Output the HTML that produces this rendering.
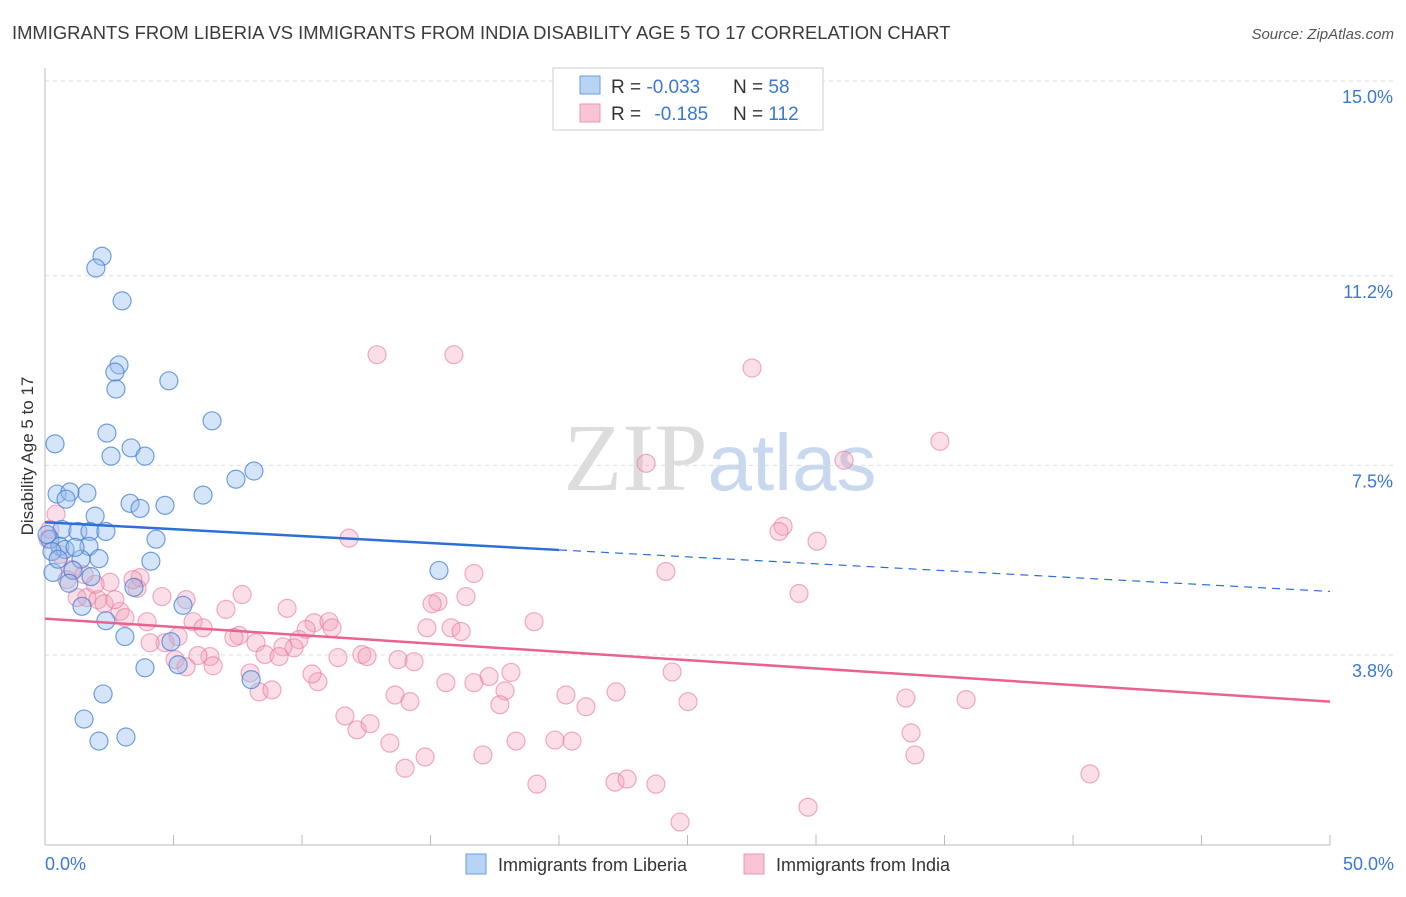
<!DOCTYPE html>
<html><head><meta charset="utf-8"><style>
body{margin:0;background:#fff;font-family:"Liberation Sans",sans-serif}
</style></head><body>
<svg id="chart" width="1406" height="892" xmlns="http://www.w3.org/2000/svg" font-family="Liberation Sans, sans-serif">
<text x="12" y="39" font-size="18.4" fill="#3a3a3a">IMMIGRANTS FROM LIBERIA VS IMMIGRANTS FROM INDIA DISABILITY AGE 5 TO 17 CORRELATION CHART</text>
<text x="1394" y="39" font-size="15" fill="#555" text-anchor="end" font-style="italic">Source: ZipAtlas.com</text>
<text x="720" y="490" font-size="96" text-anchor="middle" fill="#ddd" font-family="Liberation Serif, serif">ZIP<tspan fill="#c8d8ee" font-family="Liberation Sans, sans-serif" font-size="80">atlas</tspan></text>
<text transform="translate(33,456) rotate(-90)" font-size="17" fill="#333" text-anchor="middle">Disability Age 5 to 17</text>
<g id="grid"></g><g id="axes"></g><g id="pts"></g><g id="trend"></g>
<g>
<rect x="553" y="68" width="270" height="62" fill="#fff" stroke="#ccc"/>
<rect x="580" y="76" width="20" height="18" fill="#b8d4f5" stroke="#6a9ee0"/>
<rect x="580" y="104" width="20" height="18" fill="#f9c4d4" stroke="#ee94b0"/>
<text x="611" y="93" font-size="19" fill="#333">R = <tspan fill="#3a78d4">-0.033</tspan><tspan x="733">N = </tspan><tspan fill="#3a78d4">58</tspan></text>
<text x="611" y="120" font-size="19" fill="#333">R = <tspan fill="#3a78d4" dx="8">-0.185</tspan><tspan x="733">N = </tspan><tspan fill="#3a78d4">112</tspan></text>
</g>
<g>
<rect x="466" y="854" width="20" height="20" fill="#b8d4f5" stroke="#6a9ee0"/>
<text x="498" y="871" font-size="18" fill="#333">Immigrants from Liberia</text>
<rect x="744" y="854" width="20" height="20" fill="#f9c4d4" stroke="#ee94b0"/>
<text x="776" y="871" font-size="18" fill="#333">Immigrants from India</text>
</g>
</svg>
<script>
const yTicks=[15.0,11.2,7.5,3.8];
const yTickLabels=["15.0%","11.2%","7.5%","3.8%"];
const xTickLabels=["0.0%","50.0%"];
const liberiaX=[2.22,1.98,3.0,2.88,2.72,2.76,4.82,6.5,0.39,2.41,3.35,2.57,3.89,8.13,7.43,6.15,0.47,1.63,0.97,0.82,3.31,3.7,4.67,1.95,0.66,1.28,1.75,2.37,4.32,0.19,0.58,1.71,0.78,2.1,1.4,4.12,0.31,1.09,1.79,15.33,3.46,0.93,1.44,5.37,2.37,3.11,4.9,3.89,5.18,8.02,2.26,1.52,2.1,3.15,0.08,0.27,0.51,1.17];
const liberiaY=[11.58,11.35,10.71,9.46,9.32,8.99,9.15,8.37,7.92,8.13,7.84,7.68,7.68,7.39,7.23,6.92,6.94,6.96,6.98,6.84,6.76,6.66,6.72,6.51,6.25,6.21,6.21,6.21,6.06,6.06,5.92,5.92,5.86,5.68,5.67,5.63,5.41,5.45,5.33,5.45,5.12,5.2,4.75,4.77,4.47,4.16,4.06,3.55,3.61,3.32,3.04,2.55,2.12,2.2,6.15,5.82,5.67,5.9];
const indiaX=[12.92,15.91,27.51,34.82,23.39,31.09,28.72,28.56,30.04,11.83,24.16,16.69,29.34,2.53,3.58,4.55,1.63,1.25,2.06,2.3,5.49,7.67,16.38,15.29,15.06,9.42,7.04,2.92,3.11,3.97,5.76,6.15,10.47,11.05,11.17,10.16,14.86,15.8,16.19,19.03,7.55,7.35,5.18,4.67,4.09,8.21,9.88,9.69,9.26,6.42,5.95,5.06,5.49,6.54,8.56,9.11,11.4,12.33,12.53,13.74,14.36,17.28,18.13,24.4,15.6,16.69,10.62,10.39,7.98,8.33,8.83,13.62,14.2,17.9,17.7,20.27,21.05,22.22,25.02,33.5,35.84,11.67,12.14,12.65,13.42,18.33,19.84,20.51,33.7,33.85,14.01,14.79,17.04,19.14,22.18,22.65,23.77,29.69,24.71,40.66,0.43,0.19,0.12,0.58,1.05,0.86,1.95,1.52,3.7,2.72,3.42];
const indiaY=[9.66,9.66,9.4,7.97,7.54,7.6,6.31,6.21,6.02,6.08,5.43,5.39,5.0,5.22,5.1,4.94,4.92,4.92,4.88,4.8,4.88,4.98,4.94,4.84,4.8,4.71,4.69,4.65,4.53,4.45,4.45,4.33,4.43,4.45,4.33,4.3,4.33,4.33,4.26,4.45,4.18,4.14,4.16,4.04,4.04,4.04,4.1,3.94,3.96,3.77,3.79,3.71,3.57,3.59,3.81,3.77,3.75,3.81,3.77,3.71,3.67,3.38,3.46,3.47,3.26,3.26,3.28,3.43,3.45,3.08,3.12,3.02,2.89,3.1,2.83,3.02,2.79,3.08,2.89,2.96,2.93,2.61,2.34,2.46,2.08,2.12,2.14,2.12,2.28,1.85,1.59,1.81,1.85,1.28,1.32,1.38,1.28,0.83,0.54,1.48,6.55,6.25,6.06,5.76,5.47,5.27,5.18,5.37,5.31,4.88,5.27];
const liberiaTrend=[6.39,5.04];
const indiaTrend=[4.51,2.89];
const liberiaSolidEnd=20.0;

const NS="http://www.w3.org/2000/svg";
const X=v=>45+v*25.7;
const Y=v=>81+(15-v)*51.25;
function mk(tag,attrs,parent){const e=document.createElementNS(NS,tag);for(const k in attrs)e.setAttribute(k,attrs[k]);document.getElementById(parent).appendChild(e);return e;}
yTicks.forEach((t,i)=>{
  const l=mk('line',{x1:45,x2:1394,y1:Y(t),y2:Y(t),stroke:'#ddd','stroke-dasharray':'4,4'},'grid');
  
  
  const tx=mk('text',{x:1393,y:Y(t)+22,'font-size':18,fill:'#3a78d4','text-anchor':'end'},'axes');
  tx.textContent=yTickLabels[i];
  
  
});
const ax=mk('line',{x1:45,x2:45,y1:68,y2:845,stroke:'#bbb'},'axes');


const bx=mk('line',{x1:45,x2:1330,y1:845,y2:845,stroke:'#bbb'},'axes');


for(let v=0;v<=50;v+=5){
  const t=mk('line',{x1:X(v),x2:X(v),y1:835,y2:845,stroke:'#bbb'},'axes');
  
  
}
[[0,'start',45],[50,'end',1394]].forEach((a,i)=>{
  const t=mk('text',{x:a[2],y:870,'font-size':18,fill:'#3a78d4','text-anchor':a[1]},'axes');
  t.textContent=xTickLabels[i];
  
  
});
indiaX.forEach((x,i)=>{
  const c=mk('circle',{cx:X(x),cy:Y(indiaY[i]),r:9,fill:'rgba(244,160,186,0.35)',stroke:'rgba(232,120,156,0.6)','stroke-width':1.2},'pts');
  
  
});
liberiaX.forEach((x,i)=>{
  const c=mk('circle',{cx:X(x),cy:Y(liberiaY[i]),r:9,fill:'rgba(150,190,240,0.4)',stroke:'rgba(60,120,210,0.7)','stroke-width':1.2},'pts');
  
  
});
const lb=t=>liberiaTrend[0]+(liberiaTrend[1]-liberiaTrend[0])*t/50;
let l1=mk('line',{x1:X(0),y1:Y(lb(0)),x2:X(liberiaSolidEnd),y2:Y(lb(liberiaSolidEnd)),stroke:'#2c6fd6','stroke-width':2.5},'trend');


let l2=mk('line',{x1:X(liberiaSolidEnd),y1:Y(lb(liberiaSolidEnd)),x2:X(50),y2:Y(lb(50)),stroke:'#2c6fd6','stroke-width':1.2,'stroke-dasharray':'8,6'},'trend');


let l3=mk('line',{x1:X(0),y1:Y(indiaTrend[0]),x2:X(50),y2:Y(indiaTrend[1]),stroke:'#e8638f','stroke-width':2.5},'trend');


</script>
</body></html>
